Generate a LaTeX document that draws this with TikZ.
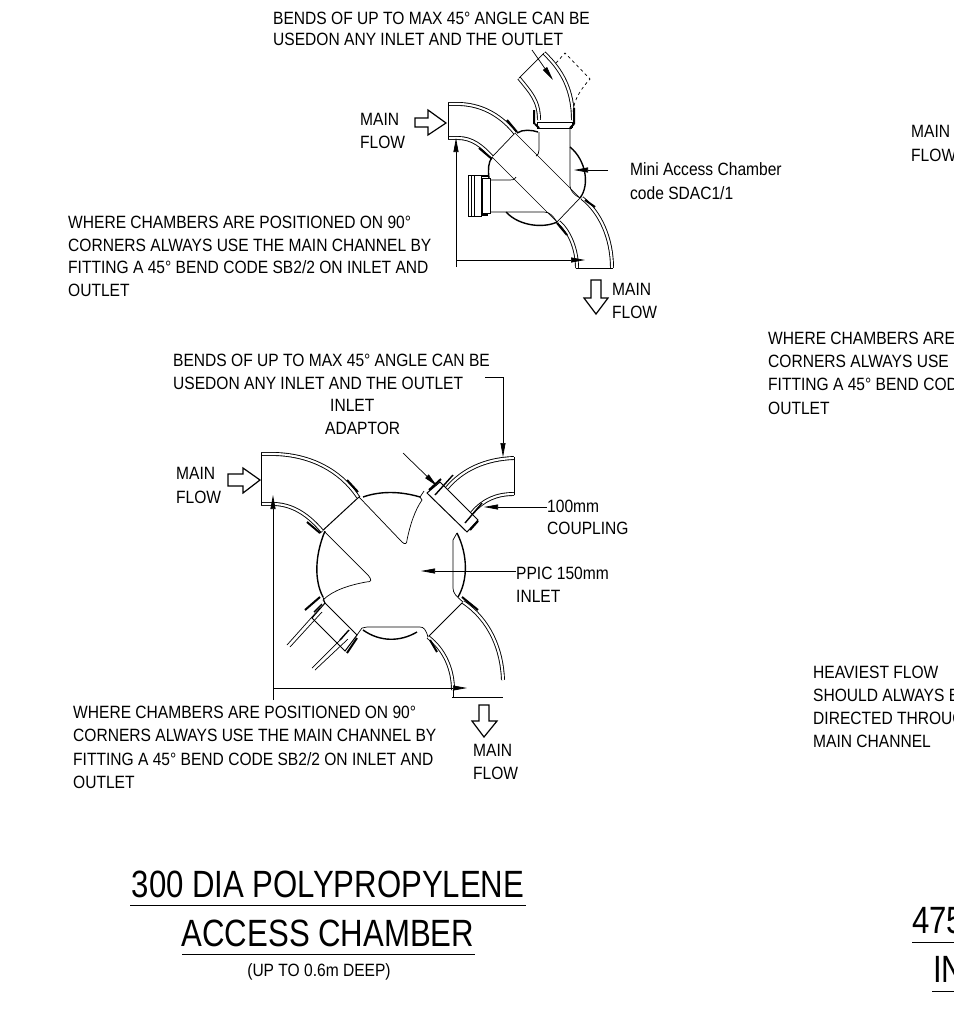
\documentclass[tikz,border=0pt]{standalone}
\usepackage{fontspec}
\setmainfont{Liberation Sans}
\usetikzlibrary{arrows.meta}
\newcommand{\lbl}[4]{\node[lab] (#1) at (#2,#3) {#4};}
\tikzset{
  lab/.style={anchor=west,inner sep=0pt,font=\fontsize{17.8}{17.8}\selectfont\addfontfeatures{FakeStretch=0.875}},
  title/.style={anchor=center,inner sep=0pt,font=\fontsize{38}{38}\selectfont\addfontfeatures{FakeStretch=0.82}},
  pipe/.style={line width=.7pt,black},
  dbl/.style={line width=.9pt,black,double=white,double distance=2.1pt},
  thick body/.style={line width=1.4pt},
  band/.style={line width=2pt},
  lead/.style={line width=.7pt,-{Triangle[length=14pt,width=5pt,fill=black]}},
  hollow/.style={line width=1.2pt,fill=white},
}
\begin{document}
\begin{tikzpicture}[x=1pt,y=-1pt]
\useasboundingbox (0,0) rectangle (954,1013);
\clip (0,0) rectangle (954,1013);
% ---- texts
\lbl{t1}{273}{18}{BENDS OF UP TO MAX 45° ANGLE CAN BE}
\lbl{t2}{273}{39}{USEDON ANY INLET AND THE OUTLET}
\lbl{t3}{360}{119}{MAIN}
\lbl{t4}{360}{142}{FLOW}
\lbl{t5}{630}{169}{Mini Access Chamber}
\lbl{t6}{630}{193}{code SDAC1/1}
\lbl{t7}{68}{222}{WHERE CHAMBERS ARE POSITIONED ON 90°}
\lbl{t8}{68}{245}{CORNERS ALWAYS USE THE MAIN CHANNEL BY}
\lbl{t9}{68}{267}{FITTING A 45° BEND CODE SB2/2 ON INLET AND}
\lbl{t10}{68}{290}{OUTLET}
\lbl{t11}{612}{289}{MAIN}
\lbl{t12}{612}{312}{FLOW}
\lbl{t13}{173}{360}{BENDS OF UP TO MAX 45° ANGLE CAN BE}
\lbl{t14}{173}{383}{USEDON ANY INLET AND THE OUTLET}
\lbl{t15}{330}{405}{INLET}
\lbl{t16}{325}{428}{ADAPTOR}
\lbl{t17}{176}{473}{MAIN}
\lbl{t18}{176}{497}{FLOW}
\lbl{t19}{547}{506}{100mm}
\lbl{t20}{547}{528}{COUPLING}
\lbl{t21}{516}{573}{PPIC 150mm}
\lbl{t22}{516}{596}{INLET}
\lbl{t23}{73}{712}{WHERE CHAMBERS ARE POSITIONED ON 90°}
\lbl{t24}{73}{735}{CORNERS ALWAYS USE THE MAIN CHANNEL BY}
\lbl{t25}{73}{759}{FITTING A 45° BEND CODE SB2/2 ON INLET AND}
\lbl{t26}{73}{782}{OUTLET}
\lbl{t27}{473}{750}{MAIN}
\lbl{t28}{473}{773}{FLOW}
\lbl{r1}{911}{131}{MAIN}
\lbl{r2}{911}{155}{FLOW}
\lbl{r3}{768}{338}{WHERE CHAMBERS ARE}
\lbl{r4}{768}{361}{CORNERS ALWAYS USE}
\lbl{r5}{768}{384}{FITTING A 45° BEND COD}
\lbl{r6}{768}{408}{OUTLET}
\lbl{r7}{813}{672}{HEAVIEST FLOW}
\lbl{r8}{813}{695}{SHOULD ALWAYS B}
\lbl{r9}{813}{718}{DIRECTED THROUG}
\lbl{r10}{813}{741}{MAIN CHANNEL}
\node[title] (ti1) at (328,884) {300 DIA POLYPROPYLENE};
\node[title] (ti2) at (328,933) {ACCESS CHAMBER};
\node[lab,anchor=center] (ti3) at (319,972) {(UP TO 0.6m DEEP)};
\node[title,anchor=west] (ti4) at (912,921) {475};
\node[title,anchor=west] (ti5) at (933,969) {IN};
\draw[pipe] (130,905)--(526,905) (182,954)--(475,954) (912,942)--(954,942) (932,991)--(954,991);
% ---- upper chamber
\begin{scope}[pipe]
% circle arcs
\draw[thick body] (517,133) .. controls (523,129) and (532,130) .. (538,132);
\draw[thick body] (570,147) .. controls (586,160) and (590,185) .. (580,198);
\draw[thick body] (492,157) .. controls (488,163) and (488,170) .. (489,178);
\draw[thick body] (506,212) .. controls (520,227) and (545,228) .. (557,222);
% main channel
\draw (515,133)--(580,198) (492,157)--(557,222) (492,157)--(515,133) (557,222)--(580,198);
% inlet bend left
\draw[dbl] (448,104)--(460,104) .. controls (485,105) and (503,118) .. (515,133);
\draw[dbl] (448,138)--(458,138) .. controls (472,138) and (482,146) .. (492,157);
\draw (448,103)--(448,139);
% outlet bend
\draw[dbl] (582,198) .. controls (600,212) and (612,238) .. (612,268);
\draw[dbl] (559,222) .. controls (570,232) and (577,250) .. (577,268);
\draw (576,268)--(613,268);
% branch
\draw (539,132)--(539,150) .. controls (539,153) and (538,155) .. (536,156);
\draw (570,128)--(570,186) .. controls (570,190) and (574,195) .. (580,198);
\draw (537,122)--(572,122) (537,128)--(572,128);
\draw (537,122)--(537,128) (572,122)--(572,128);
\draw[dbl] (539,120) .. controls (539,100) and (530,92) .. (519,78);
\draw[dbl] (573,120) .. controls (573,90) and (562,70) .. (544,53);
\draw (519,78)--(544,53);
\draw[dashed] (556,63)--(565,53)--(590,79) .. controls (580,90) and (574,100) .. (573,112);
% left branch
\draw (490,180)--(510,180) .. controls (513,180) and (514,180) .. (516,177);
\draw (490,212)--(544,212) .. controls (550,212) and (553,216) .. (557,222);
\draw (490,178)--(490,214) (482,178)--(482,214);
\draw (482,178)--(490,178) (482,213)--(490,213);
\draw (468,175) rectangle (481,216);
\draw (471,175)--(471,216) (474,175)--(474,216);
\draw[band] (481,176)--(488,176) (481,215)--(488,215);
% bands
\draw[band] (507,120)--(517,132) (479,148)--(492,159) (585,200)--(595,207) (557,223)--(567,235);
\draw[band] (534,110)--(534,124) (574,108)--(574,124) (535,124)--(539,128) (570,128)--(574,124);
% dimensions
\draw[lead] (456,267)--(456,138);
\draw[lead] (456,260)--(585,260);
\draw[lead] (532,50)--(553,80);
\draw[lead] (608,170)--(574,170);
\end{scope}
% hollow arrows
\draw[hollow] (415,118)--(428,118)--(428,110)--(446,123)--(428,135)--(428,127)--(415,127)--cycle;
\draw[hollow] (591,280)--(601,280)--(601,298)--(608,298)--(596,314)--(584,298)--(591,298)--cycle;
\draw[hollow] (228,474)--(243,474)--(243,468)--(260,480)--(243,493)--(243,486)--(228,486)--cycle;
\draw[hollow] (479,705)--(489,705)--(489,721)--(497,721)--(484,737)--(472,721)--(479,721)--cycle;
% ---- lower chamber
\begin{scope}[pipe]
% circle arcs
\draw[thick body] (363,497) .. controls (380,491) and (400,491) .. (420,497);
\draw[thick body] (325,531) .. controls (315,555) and (314,580) .. (323,597);
\draw[thick body] (457,533) .. controls (468,555) and (468,580) .. (458,597);
\draw[thick body] (363,630) .. controls (380,642) and (400,642) .. (417,632);
% main channel
\draw (359,497)--(402,542) .. controls (405,545) and (407,544) .. (407,540) .. controls (410,525) and (415,510) .. (422,500)--(420,497)--(424,491);
\draw (325,532)--(368,575) .. controls (372,580) and (372,582) .. (366,582) .. controls (350,585) and (333,590) .. (323,600)--(325,603);
\draw[line width=1pt] (320,533)--(360,496);
% inlet bend
\draw[dbl] (261,454)--(275,454) .. controls (310,455) and (340,470) .. (358,497);
\draw[dbl] (261,504)--(275,504) .. controls (295,505) and (310,517) .. (322,531);
\draw (261,453)--(261,505);
\draw[band] (347,480)--(358,492) (307,522)--(320,533);
% adaptor top right
\draw[line width=1pt] (427,493)--(440,482)--(478,520)--(467,532)--cycle;
\draw[dbl] (447,488) .. controls (462,470) and (485,459) .. (514,458);
\draw[dbl] (472,513) .. controls (483,500) and (496,494) .. (514,494);
\draw (514,457)--(514,495);
\draw[line width=1.4pt] (435,495)--(453,475) (465,523)--(482,503);
\draw[band] (470,530)--(478,521) (429,490)--(441,479);
\draw (457,533)--(453,540)--(453,588) .. controls (453,593) and (456,596) .. (463,602);
% bottom & outlet
\draw[line width=1pt] (428,637)--(463,602);
\draw[dbl] (463,602) .. controls (490,620) and (502,650) .. (503,680);
\draw[dbl] (428,637) .. controls (445,650) and (453,670) .. (453,690);
\draw (452,697)--(503,697) (453,690)--(453,697);
\draw[band] (462,597)--(478,610) (430,640)--(437,652);
\draw (357,635)--(362,628) .. controls (364,627) and (365,627) .. (367,627)--(420,627) .. controls (424,627) and (426,630) .. (428,637);
% adaptor bottom left
\draw[line width=1pt] (312,618)--(325,603)--(357,635)--(345,651)--cycle;
\draw (325,603)--(323,597);
\draw (287,645)--(320,608) (290,647)--(322,612) (312,668)--(343,637) (315,670)--(348,639);
\draw[band] (305,610)--(320,597) (347,653)--(357,638);
\draw[line width=1.4pt] (314,612)--(322,604) (340,640)--(349,630);
% dims
\draw[lead] (273,700)--(273,495);
\draw[lead] (273,688)--(467,688);
\draw[lead] (403,453)--(437,486);
\draw (485,377)--(503,377);
\draw[lead] (503,377)--(503,457);
\draw[lead] (547,507)--(484,507);
\draw[lead] (516,571)--(421,571);
\end{scope}
\end{tikzpicture}
\end{document}
